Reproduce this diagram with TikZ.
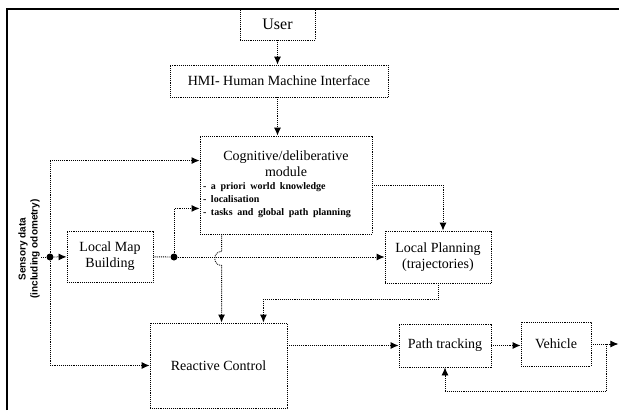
\documentclass[tikz,border=0pt]{standalone}
\usepackage{fontspec}
\setmainfont{Liberation Serif}
\setsansfont{Liberation Sans}
\usetikzlibrary{arrows.meta,calc}
\tikzset{>={Latex[length=8pt,width=7pt]}}
\tikzstyle{block}=[draw,densely dotted,line width=0.9pt,align=center,inner sep=2pt,font=\fontsize{14}{16}\selectfont]
\tikzstyle{flow}=[->,densely dotted,line width=0.9pt]
\tikzstyle{wire}=[densely dotted,line width=0.9pt]
\tikzstyle{junction}=[circle,fill,inner sep=0pt,minimum size=7pt]
\newcommand\listfont{\fontsize{10}{13}\selectfont\bfseries}

\begin{document}
\begin{tikzpicture}[x=1pt,y=-1pt]
  \useasboundingbox (0,0) rectangle (619,410);
  \draw[line width=1.2pt] (7,410) -- (7,9) -- (619,9);
  % top of the hierarchy
  \node[block,minimum width=75,minimum height=31,font=\fontsize{16}{18}\selectfont] (user) at (277.5,24.5) {User};
  \node[block,minimum width=218,minimum height=32] (hmi) at (279,81) {HMI- Human Machine Interface};
  \node[block,minimum width=172,minimum height=98,text width=166pt] (cog) at (286,185)
    {Cognitive/deliberative\\ module\\[2pt]
     \makebox[166pt][l]{\listfont\begin{tabular}{@{}l@{}}- a priori world knowledge\\ - localisation\\ - tasks and global path planning\end{tabular}}};
  % lower blocks
  \node[block,minimum width=86,minimum height=51] (lmb) at (110,256.5) {Local Map\\ Building};
  \node[block,minimum width=106,minimum height=52] (lp) at (438,257) {Local Planning\\ (trajectories)};
  \node[block,minimum width=137,minimum height=85] (rc) at (218.5,365.5) {Reactive Control};
  \node[block,minimum width=92,minimum height=43] (pt) at (445,345.5) {Path tracking};
  \node[block,minimum width=70,minimum height=44] (veh) at (556,344) {Vehicle};
  \node[rotate=90,align=center,font=\sffamily\bfseries\fontsize{10}{12}\selectfont] (sens) at (29,249)
    {Sensory data\\ (including odometry)};
  \node[junction] (sd) at (50,257) {};
  \node[junction] (md) at (174,257) {};
  \coordinate (sin) at (41,257);
  \coordinate (cogin1) at ($(cog.north west)+(0,25)$);
  \coordinate (cogin2) at ($(cog.south west)+(0,-26)$);
  \coordinate (cogout) at ($(cog.south west)+(22,0)$);
  \coordinate (lpin) at ($(lp.north)+(5,0)$);
  \coordinate (rcin) at ($(rc.north east)+(-24,0)$);
  \coordinate (br) at ($(veh.east)+(15,0)$);
  \coordinate (out) at ($(veh.east)+(27,0)$);
  % connections
  \draw[flow] (user.south) -- (user.south |- hmi.north);
  \draw[flow] (user.south |- hmi.south) -- (user.south |- cog.north);
  \draw[wire] (sin) -- (sd);
  \draw[flow] (sd) -- (lmb);
  \draw[flow] (sd) |- (cogin1);
  \draw[flow] (sd) |- (rc.west);
  \draw[wire] (lmb) -- (md);
  \draw[flow] (md) -- (lp);
  \draw[flow] (md) |- (cogin2);
  \draw[flow] (cogout) -- ++(0,17) .. controls +(-9,0) and +(-9,0) .. ++(0,14) -- (cogout |- rc.north);
  \draw[flow] (cog.east) -| (lpin);
  \draw[flow] (lp.south) -- ++(0,16) -| (rcin);
  \draw[flow] (pt.west -| rc.east) -- (pt.west);
  \draw[flow] (pt.east) -- (pt.east -| veh.west);
  \draw[flow] (veh.east) -- (out);
  \draw[flow] (br) -- ++(0,47) -| (pt.south);
\end{tikzpicture}
\end{document}
